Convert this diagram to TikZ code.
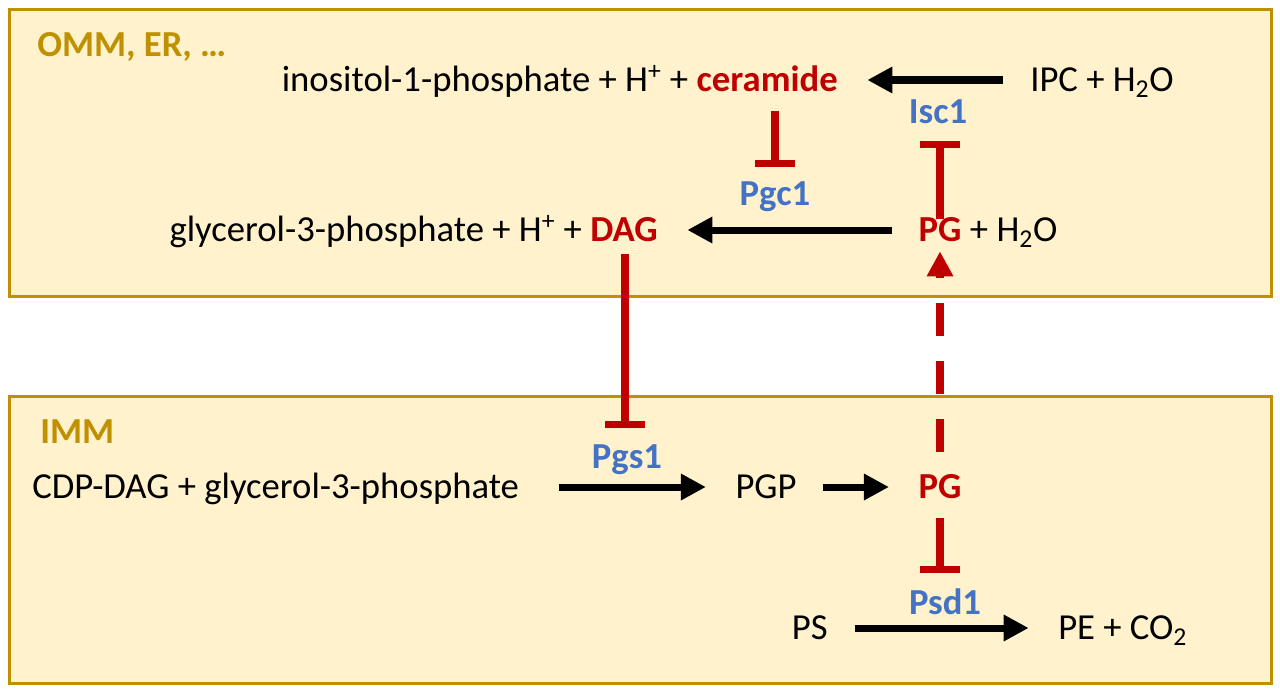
\documentclass[tikz,border=0pt]{standalone}
\usepackage{fontspec}
\setmainfont{Carlito}
\usetikzlibrary{arrows.meta}
\definecolor{zonegold}{RGB}{191,144,0}
\definecolor{zonefill}{RGB}{255,242,204}
\definecolor{lipidred}{RGB}{192,0,0}
\definecolor{enzblue}{RGB}{68,114,196}
\newcommand\diagfont{\fontsize{27.5}{33}\selectfont}
\tikzset{
  sp/.style={inner sep=0pt,text height=24.75pt,text depth=6.9pt,font=\diagfont},
  lipid/.style={sp,font=\diagfont\bfseries,text=lipidred},
  enz/.style={inner sep=0pt,font=\diagfont\bfseries,text=enzblue},
  zone/.style={draw=zonegold,line width=2.25pt,fill=zonefill},
  zonelabel/.style={inner sep=0pt,anchor=west,font=\diagfont\bfseries,text=zonegold},
  rxn/.style={line width=5.25pt,-{Triangle[length=18.75pt,width=18.75pt]},shorten <=20pt,shorten >=22pt},
  inh/.style={draw=lipidred,line width=5.5pt,-{Bar[width=30pt]}},
  act/.style={draw=lipidred,line width=5.5pt,dash pattern=on 24.75pt off 18.75pt,-{Triangle[length=18.75pt,width=18.75pt]}}
}
\begin{document}
\begin{tikzpicture}[x=0.75pt,y=0.75pt,yscale=-1,xscale=1]
\useasboundingbox[fill=white] (0,0) rectangle (1280,692);
\draw[zone] (9,10) rectangle (1271,296);
\draw[zone] (9,396) rectangle (1271,683);
\node[zonelabel] (omm) at (37,47) {OMM, ER, …};
\node[zonelabel] (imm) at (40,432) {IMM};

\node[lipid,anchor=east] (cer) at (838,80) {ceramide};
\node[sp,anchor=east] (ino) at ([xshift=-6pt]cer.west) {inositol-1-phosphate + H\textsuperscript{+} +};
\node[sp,anchor=west] (ipc) at (1030,80) {IPC + H\textsubscript{2}O};
\node[lipid,anchor=east] (dag) at (658,230) {DAG};
\node[sp,anchor=east] (gly) at ([xshift=-6pt]dag.west) {glycerol-3-phosphate + H\textsuperscript{+} +};
\node[lipid] (pgo) at (940,230) {PG};
\node[sp,anchor=west] (hyd) at ([xshift=6pt]pgo.east) {+ H\textsubscript{2}O};

\node[sp,anchor=west] (cdp) at (32,487) {CDP-DAG + glycerol-3-phosphate};
\node[sp] (pgp) at (766,487) {PGP};
\node[lipid] (pgi) at (940,487) {PG};
\node[sp,anchor=east] (ps) at (828,628) {PS};
\node[sp,anchor=west] (pe) at (1058,628) {PE + CO\textsubscript{2}};

\node[enz] (isc1) at (938,112) {Isc1};
\node[enz] (pgc1) at (775,197) {Pgc1};
\node[enz] (pgs1) at (627,460) {Pgs1};
\node[enz] (psd1) at (945,602) {Psd1};

\coordinate (isc1bar) at (940,141);
\coordinate (pgc1bar) at (775,167);
\coordinate (pgs1bar) at (625,428);
\coordinate (psd1bar) at (940,573);

\draw[rxn] (ipc) -- (cer);
\draw[rxn] (pgo) -- (dag);
\draw[rxn,shorten <=30pt] (cdp) -- (pgp);
\draw[rxn] (pgp) -- (pgi);
\draw[rxn] (ps) -- (pe);

\draw[inh] ([yshift=8pt]pgo.north) -- (isc1bar);
\draw[inh,shorten <=7pt] (cer.south -| pgc1bar) -- (pgc1bar);
\draw[inh,shorten <=2pt] (dag.south -| pgs1bar) -- (pgs1bar);
\draw[inh,shorten <=7pt] (pgi.south) -- (psd1bar);
\draw[act,shorten <=10.5pt] (pgi.north) -- (pgo.south);
\end{tikzpicture}
\end{document}
